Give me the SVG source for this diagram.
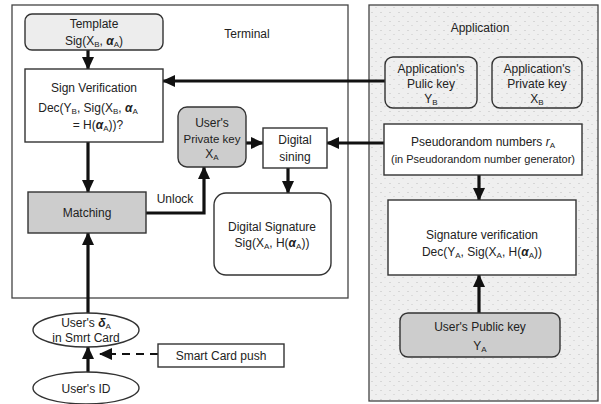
<svg xmlns="http://www.w3.org/2000/svg" width="601" height="404" viewBox="0 0 601 404">
<defs>
<style>
text{font-family:"Liberation Sans",Arial,sans-serif;font-size:12px;fill:#222;text-anchor:middle}
.frame{fill:#fff;stroke:#444;stroke-width:1.3}
.app{fill:#ececec;stroke:#444;stroke-width:1.3}
.box{fill:#fff;stroke:#333;stroke-width:1.4}
.gray{fill:#cdcdcd;stroke:#333;stroke-width:1.4}
.lt{fill:#ededed;stroke:#333;stroke-width:1.4}
.tr{fill:none;stroke:#333;stroke-width:1.4}
.c{fill:none;stroke:#111;stroke-width:3.2}
.d{fill:none;stroke:#111;stroke-width:2.2;stroke-dasharray:8 6}
.sub{font-size:8px}
.gr{font-style:italic;font-weight:bold}
.sm{font-size:11px}
.sm2{font-size:11.5px}
</style>
<marker id="ah" markerUnits="userSpaceOnUse" markerWidth="13" markerHeight="12" refX="12" refY="6" orient="auto">
<path d="M0,0 L13,6 L0,12 z" fill="#111"/>
</marker>
<pattern id="dots" width="9" height="9" patternUnits="userSpaceOnUse">
<rect width="9" height="9" fill="#efefef"/>
<rect x="2" y="3" width="2" height="1" fill="#d6d6d6"/>
<rect x="6" y="7" width="2" height="1" fill="#dcdcdc"/>
</pattern>
</defs>

<g id="terminal">
<rect class="frame" x="12" y="5" width="336" height="293"/>
<text x="247" y="38">Terminal</text>
</g>
<g id="application">
<rect class="app" x="369" y="5" width="229" height="396" style="fill:url(#dots)"/>
<text x="480" y="32">Application</text>
</g>

<g id="connectors">
<line class="c" x1="88" y1="50" x2="88" y2="69" marker-end="url(#ah)"/>
<line class="c" x1="385" y1="81" x2="163" y2="81" marker-end="url(#ah)"/>
<line class="c" x1="88" y1="142" x2="88" y2="192" marker-end="url(#ah)"/>
<line class="c" x1="88" y1="313" x2="88" y2="233" marker-end="url(#ah)"/>
<line class="c" x1="88" y1="373" x2="88" y2="347" marker-end="url(#ah)"/>
<line class="d" x1="158" y1="354" x2="100" y2="354" marker-end="url(#ah)"/>
<polyline class="c" points="146,213 204,213 204,167" marker-end="url(#ah)"/>
<line class="c" x1="246" y1="143" x2="263" y2="143" marker-end="url(#ah)"/>
<line class="c" x1="384" y1="143" x2="327" y2="143" marker-end="url(#ah)"/>
<line class="c" x1="288" y1="168" x2="288" y2="193" marker-end="url(#ah)"/>
<line class="c" x1="479" y1="175" x2="479" y2="200" marker-end="url(#ah)"/>
<line class="c" x1="479" y1="313" x2="479" y2="275" marker-end="url(#ah)"/>
<text x="175" y="203">Unlock</text>
</g>

<g id="template">
<rect class="lt" x="25" y="14" width="138" height="36" rx="7"/>
<text x="94" y="28">Template</text>
<text x="94" y="45">Sig(X<tspan class="sub" dy="2">B</tspan><tspan dy="-2">,  </tspan><tspan class="gr">α</tspan><tspan class="sub" dy="2">A</tspan><tspan dy="-2">)</tspan></text>
</g>

<g id="sign-verification">
<rect class="box" x="25" y="69" width="138" height="73"/>
<text x="94" y="92">Sign Verification</text>
<text x="88" y="112">Dec(Y<tspan class="sub" dy="2">B</tspan><tspan dy="-2">, Sig(X</tspan><tspan class="sub" dy="2">B</tspan><tspan dy="-2">,   </tspan><tspan class="gr">α</tspan><tspan class="sub" dy="2">A</tspan></text>
<text x="98" y="129">= H(<tspan class="gr">α</tspan><tspan class="sub" dy="2">A</tspan><tspan dy="-2">))?</tspan></text>
</g>

<g id="matching">
<rect class="gray" x="28" y="192" width="118" height="41"/>
<text x="87" y="217">Matching</text>
</g>

<g id="users-private-key">
<rect class="gray" x="178" y="107" width="68" height="60" rx="9"/>
<text x="212" y="127">User's</text>
<text class="sm2" x="212" y="143">Private key</text>
<text x="212" y="158">X<tspan class="sub" dy="2">A</tspan></text>
</g>

<g id="digital-sining">
<rect class="box" x="263" y="128" width="64" height="40"/>
<text x="295" y="144">Digital</text>
<text x="295" y="161">sining</text>
</g>

<g id="digital-signature">
<rect class="box" x="214" y="193" width="117" height="82" rx="12"/>
<text x="272" y="231">Digital Signature</text>
<text x="272" y="247">Sig(X<tspan class="sub" dy="2">A</tspan><tspan dy="-2">,  H(</tspan><tspan class="gr">α</tspan><tspan class="sub" dy="2">A</tspan><tspan dy="-2">))</tspan></text>
</g>

<g id="app-public-key">
<rect class="tr" x="385" y="57" width="92" height="51" rx="8"/>
<text x="431" y="73">Application's</text>
<text x="431" y="88">Pulic key</text>
<text x="431" y="103">Y<tspan class="sub" dy="2">B</tspan></text>
</g>

<g id="app-private-key">
<rect class="tr" x="492" y="57" width="90" height="51" rx="8"/>
<text x="537" y="73">Application's</text>
<text x="537" y="88">Private key</text>
<text x="537" y="103">X<tspan class="sub" dy="2">B</tspan></text>
</g>

<g id="pseudorandom">
<rect class="box" x="384" y="124" width="198" height="51"/>
<text x="483" y="146">Pseudorandom numbers <tspan font-style="italic">r</tspan><tspan class="sub" dy="2">A</tspan></text>
<text class="sm" x="483" y="163">(in Pseudorandom number generator)</text>
</g>

<g id="signature-verification">
<rect class="box" x="388" y="200" width="188" height="75"/>
<text x="482" y="239">Signature verification</text>
<text x="482" y="256">Dec(Y<tspan class="sub" dy="2">A</tspan><tspan dy="-2">, Sig(X</tspan><tspan class="sub" dy="2">A</tspan><tspan dy="-2">, H(</tspan><tspan class="gr">α</tspan><tspan class="sub" dy="2">A</tspan><tspan dy="-2">))</tspan></text>
</g>

<g id="users-public-key">
<rect class="gray" x="400" y="313" width="160" height="44" rx="8"/>
<text x="480" y="331">User's Public key</text>
<text x="480" y="350">Y<tspan class="sub" dy="2">A</tspan></text>
</g>

<g id="users-delta">
<ellipse class="box" cx="86" cy="330" rx="53" ry="17"/>
<text x="86" y="327">User's  <tspan class="gr">δ</tspan><tspan class="sub" dy="2">A</tspan></text>
<text x="86" y="342">in Smrt Card</text>
</g>

<g id="users-id">
<ellipse class="box" cx="86" cy="388" rx="53" ry="16"/>
<text x="86" y="393">User's ID</text>
</g>

<g id="smart-card-push">
<rect class="box" x="158" y="344" width="126" height="23"/>
<text x="221" y="360">Smart Card push</text>
</g>
</svg>
